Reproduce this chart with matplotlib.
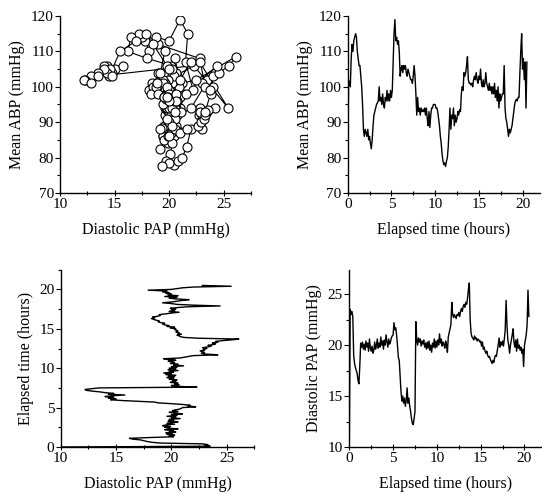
import matplotlib
matplotlib.use("Agg")
import matplotlib.pyplot as plt
import numpy as np
from matplotlib.ticker import MultipleLocator

plt.rcParams["font.family"] = ["Liberation Serif", "DejaVu Serif"]

# Samples every 0.1 h, from 0 to 20.5 h
SAMPLE_STEP_H = 0.1

mean_abp = [
    70, 102, 101, 100, 108, 112, 110, 113, 114, 115,
    114, 110, 108, 106, 106, 103, 100, 95, 88, 86,
    88, 87, 86, 88, 85, 86, 84, 82.5, 85, 89,
    92, 93, 94, 95, 95.5, 96, 100, 96, 97, 95,
    98, 95, 94, 97, 96, 99, 96, 98, 96, 99,
    97, 99, 107, 115, 119, 113, 114, 112, 113, 110,
    103, 105, 106, 104, 106, 105, 106, 104, 103, 105,
    104, 103, 102, 102, 101, 103, 106, 103, 98, 92,
    97, 93, 94, 92, 94, 93, 93.5, 93, 94, 92,
    94, 91, 89, 93, 88.5, 92, 94, 94, 95, 95,
    95, 94, 94, 93, 91, 89, 86, 84, 81, 79,
    78, 78.5, 77.5, 79, 80, 83, 88, 94, 88, 92,
    91, 94, 89, 92, 90, 91, 93, 92, 93.5, 93,
    98, 100, 99, 104, 103, 104, 106, 108.5, 102, 101,
    101, 100.5, 101, 100, 102, 103, 102, 104, 102, 101,
    103, 102, 105, 101, 100, 102, 100, 101, 104, 101,
    100, 99, 101, 99, 100, 98, 100, 98, 101, 97,
    99, 96, 100, 94, 98, 96, 97, 98, 98, 106,
    94, 91, 90, 88, 86, 88, 87, 88, 89, 91,
    93, 95, 96, 96.5, 96, 97, 97, 104, 110, 115,
    105, 108, 102, 107, 94, 107,
]

diastolic_pap = [
    10, 23.5, 23.0, 23.3, 22.8, 19.0, 18.2, 17.8, 17.5, 17.2,
    16.5, 16.2, 18.0, 20.2, 19.8, 20.3, 19.6, 20.1, 19.5, 20.4,
    19.8, 20.2, 19.4, 20.6, 19.7, 19.4, 19.9, 19.2, 19.5, 20.3,
    19.6, 20.0, 20.6, 19.7, 20.2, 19.8, 20.8, 20.0, 20.4, 19.6,
    20.5, 20.0, 21.0, 20.3, 19.8, 20.6, 20.1, 20.3, 20.7, 20.9,
    21.0, 22.2, 21.5, 21.7, 21.0, 20.0, 18.8, 18.5, 17.0, 15.5,
    14.5, 15.0, 14.3, 14.8, 14.0, 14.6, 15.8, 14.3, 14.8, 14.0,
    13.5, 12.8, 12.3, 12.2, 12.8, 13.5, 22.3, 20.5, 20.0, 20.7,
    20.3, 20.6, 19.9, 20.4, 20.1, 20.5, 19.8, 20.2, 19.6, 20.3,
    19.7, 20.4, 19.5, 20.0, 19.3, 20.2, 19.8, 20.6, 19.7, 20.4,
    19.8, 20.5, 20.0, 21.1, 20.2, 20.6, 19.9, 20.3, 20.1, 19.7,
    20.4, 20.0, 19.3, 20.8, 21.2, 21.6, 22.0, 24.2, 23.0, 22.7,
    23.0, 22.8, 22.6, 23.0, 22.9, 23.2, 22.8, 23.3, 23.6, 23.3,
    23.8, 24.0, 23.7, 24.2, 24.0, 24.6, 25.5, 26.1, 22.5, 21.2,
    20.8, 20.7, 20.5, 20.9, 20.6, 20.7, 20.4, 20.6, 20.5, 20.3,
    20.4, 19.9, 20.3, 19.6, 19.8, 19.4, 19.2, 19.4, 19.0, 18.8,
    18.9, 18.6, 18.4, 18.2, 18.5, 18.3, 18.8, 19.0, 18.9, 19.5,
    20.0, 20.7, 19.8, 20.3, 20.0, 20.4, 19.9, 20.6, 21.5, 24.4,
    22.0, 20.5, 20.0, 19.2, 20.0, 20.5, 21.0, 21.6, 20.3, 19.8,
    20.5, 19.4, 20.6, 19.7, 20.0, 19.5, 19.8, 19.2, 19.6, 17.9,
    20.0, 20.5, 21.0, 22.0, 25.4, 22.8,
]

abp = np.array(mean_abp, dtype=float)
pap = np.array(diastolic_pap, dtype=float)
hours = np.arange(len(abp)) * SAMPLE_STEP_H

W, H = 542, 494
fig = plt.figure(figsize=(W / 100, H / 100), dpi=100)


def px_axes(left, top, right, bottom):
    return fig.add_axes([left / W, 1 - bottom / H, (right - left) / W, (bottom - top) / H])


def style(ax, xmaj, xmin, ymaj, ymin):
    for s in ("top", "right"):
        ax.spines[s].set_visible(False)
    for s in ("left", "bottom"):
        ax.spines[s].set_linewidth(1.0)
    ax.xaxis.set_major_locator(MultipleLocator(xmaj))
    ax.xaxis.set_minor_locator(MultipleLocator(xmin))
    ax.yaxis.set_major_locator(MultipleLocator(ymaj))
    ax.yaxis.set_minor_locator(MultipleLocator(ymin))
    ax.tick_params(axis="x", which="major", direction="inout", length=5, width=0.8, labelsize=11, pad=1)
    ax.tick_params(axis="x", which="minor", direction="inout", length=3, width=0.8)
    ax.tick_params(axis="y", which="major", direction="out", length=3.5, width=0.8, labelsize=11, pad=1)
    ax.tick_params(axis="y", which="minor", direction="out", length=2, width=0.8)


line_kw = dict(color="black", lw=1.0)

# top left: ABP vs PAP trajectory
ax1 = px_axes(60, 16, 251, 193)
ax1.plot(pap[1:], abp[1:], "-o", color="black", lw=0.8, ms=6.5,
         mfc="white", mec="black", mew=0.8)
ax1.set_xlim(10, 27.5)
ax1.set_ylim(70, 120)
style(ax1, 5, 2.5, 10, 5)
ax1.set_xlabel("Diastolic PAP (mmHg)", fontsize=11.5, labelpad=8)
ax1.set_ylabel("Mean ABP (mmHg)", fontsize=11.5, labelpad=4)

# top right: ABP vs time
ax2 = px_axes(347.7, 16, 540, 193)
ax2.plot(hours, abp, **line_kw)
ax2.set_xlim(0, 22)
ax2.set_ylim(70, 120)
style(ax2, 5, 2.5, 10, 5)
ax2.set_xlabel("Elapsed time (hours)", fontsize=11.5, labelpad=8)
ax2.set_ylabel("Mean ABP (mmHg)", fontsize=11.5, labelpad=4)

# bottom left: time vs PAP
ax3 = px_axes(60.7, 269.7, 254.4, 447)
ax3.plot(pap, hours, **line_kw)
ax3.set_xlim(10, 27.5)
ax3.set_ylim(0, 22.5)
style(ax3, 5, 2.5, 5, 2.5)
ax3.set_xlabel("Diastolic PAP (mmHg)", fontsize=11.5, labelpad=8)
ax3.set_ylabel("Elapsed time (hours)", fontsize=11.5, labelpad=4)

# bottom right: PAP vs time
ax4 = px_axes(349.3, 269.7, 542, 447)
ax4.plot(hours, pap, **line_kw)
ax4.set_xlim(0, 22)
ax4.set_ylim(10, 27.4)
style(ax4, 5, 2.5, 5, 2.5)
ax4.set_xlabel("Elapsed time (hours)", fontsize=11.5, labelpad=8)
ax4.set_ylabel("Diastolic PAP (mmHg)", fontsize=11.5, labelpad=4)

fig.savefig("out.png", dpi=100)
plt.close(fig)
